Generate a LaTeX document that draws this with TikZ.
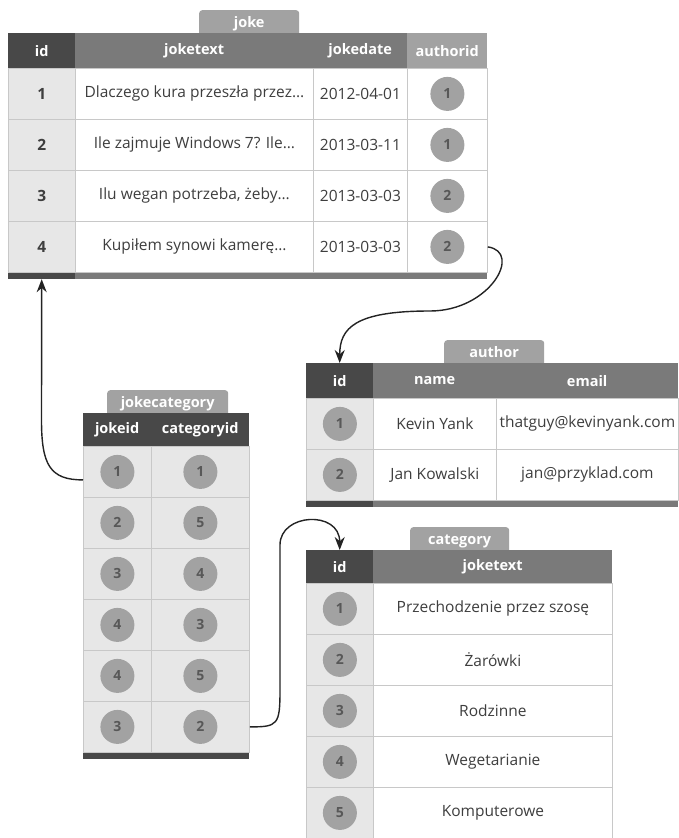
\documentclass[tikz,border=0pt]{standalone}
\usepackage{fontspec}
\setmainfont{Open Sans}
\usetikzlibrary{positioning,arrows.meta}

\definecolor{headdark}{RGB}{72,72,72}
\definecolor{headmid}{RGB}{122,122,122}
\definecolor{headlight}{RGB}{162,162,162}
\definecolor{celllight}{RGB}{231,231,231}
\definecolor{gridline}{RGB}{200,200,200}
\definecolor{bodytext}{RGB}{62,62,62}
\definecolor{dottext}{RGB}{88,88,88}
\definecolor{linkcolor}{RGB}{35,35,35}

\begin{document}
\begin{tikzpicture}[x=1pt, y=-1pt,
  every node/.style={inner sep=0pt, anchor=north west},
  tab/.style={fill=headlight, rounded corners=3pt, minimum height=27, text height=12, text depth=5, text=white, font=\bfseries\fontsize{14.5}{16}\selectfont},
  head/.style={minimum height=35, text=white, font=\bfseries\fontsize{14.5}{16}\selectfont},
  cell/.style={draw=gridline, line width=0.8pt, fill=white, minimum height=51, text=bodytext, font=\fontsize{15.5}{18}\selectfont},
  keycell/.style={cell, fill=celllight},
  keydot/.style={circle, anchor=center, fill=headlight, minimum size=34, text=dottext, font=\bfseries\fontsize{14}{15}\selectfont},
  bar/.style={minimum height=6},
  link/.style={draw=linkcolor, line width=1.4pt, -{Stealth[length=13pt, width=10pt]}}]

\useasboundingbox (0,0) rectangle (679,838);

% joke table
\node[tab, minimum width=100] (joke-tab) at (199,10) {joke};
\node[head, fill=headdark, minimum width=67] (joke-h-1) at (8,33) {id};
\node[head, fill=headmid, minimum width=238] (joke-h-2) at (75,33) {joketext};
\node[head, fill=headmid, minimum width=94] (joke-h-3) at (313,33) {jokedate};
\node[head, fill=headlight, minimum width=80] (joke-h-4) at (407,33) {authorid};
\foreach \txt/\date/\aid [count=\i] in {%
  {Dlaczego kura przeszła przez…}/2012-04-01/1,
  {Ile zajmuje Windows 7? Ile…}/2013-03-11/1,
  {Ilu wegan potrzeba, żeby…}/2013-03-03/2,
  {Kupiłem synowi kamerę…}/2013-03-03/2}{
  \node[keycell, minimum width=67] (joke-\i-1) at (8,{17+51*\i}) {\bfseries\i};
  \node[cell, minimum width=238] (joke-\i-2) at (75,{17+51*\i}) {\txt};
  \node[cell, minimum width=94] (joke-\i-3) at (313,{17+51*\i}) {\date};
  \node[cell, minimum width=80] (joke-\i-4) at (407,{17+51*\i}) {};
  \node[keydot] (joke-\i-dot) at (joke-\i-4.center) {\aid};
}
\node[bar, fill=headdark, minimum width=67] (joke-bar-1) at (joke-4-1.south west) {};
\node[bar, fill=headmid, minimum width=412] (joke-bar-2) at (joke-4-2.south west) {};

% author table
\node[tab, minimum width=100] (author-tab) at (444,340) {author};
\node[head, fill=headdark, minimum width=67] (author-h-1) at (306,363) {id};
\node[head, fill=headmid, minimum width=123] (author-h-2) at (373,363) {name};
\node[head, fill=headmid, minimum width=182] (author-h-3) at (496,363) {email};
\foreach \name/\mail [count=\i] in {Kevin Yank/thatguy@kevinyank.com, Jan Kowalski/jan@przyklad.com}{
  \node[keycell, minimum width=67] (author-\i-1) at (306,{347+51*\i}) {};
  \node[keydot] (author-\i-dot) at (author-\i-1.center) {\i};
  \node[cell, minimum width=123] (author-\i-2) at (373,{347+51*\i}) {\name};
  \node[cell, minimum width=182] (author-\i-3) at (496,{347+51*\i}) {\mail};
}
\node[bar, fill=headdark, minimum width=67] (author-bar-1) at (author-2-1.south west) {};
\node[bar, fill=headmid, minimum width=305] (author-bar-2) at (author-2-2.south west) {};

% jokecategory table
\node[tab, minimum width=121] (jokecat-tab) at (107,390) {jokecategory};
\node[head, fill=headdark, minimum width=68, minimum height=33] (jokecat-h-1) at (83,413) {jokeid};
\node[head, fill=headdark, minimum width=98, minimum height=33] (jokecat-h-2) at (151,413) {categoryid};
\foreach \jid/\cid [count=\i] in {1/1, 2/5, 3/4, 4/3, 4/5, 3/2}{
  \node[keycell, minimum width=68] (jokecat-\i-1) at (83,{395+51*\i}) {};
  \node[keycell, minimum width=98] (jokecat-\i-2) at (151,{395+51*\i}) {};
  \node[keydot] (jokecat-\i-dot1) at (jokecat-\i-1.center) {\jid};
  \node[keydot] (jokecat-\i-dot2) at (jokecat-\i-2.center) {\cid};
}
\node[bar, fill=headdark, minimum width=166] (jokecat-bar) at (jokecat-6-1.south west) {};

% category table
\node[tab, minimum width=99] (cat-tab) at (410,527) {category};
\node[head, fill=headdark, minimum width=67, minimum height=33] (cat-h-1) at (306,550) {id};
\node[head, fill=headmid, minimum width=239, minimum height=33] (cat-h-2) at (373,550) {joketext};
\foreach \cname [count=\i] in {Przechodzenie przez szosę, Żarówki, Rodzinne, Wegetarianie, Komputerowe}{
  \node[keycell, minimum width=67] (cat-\i-1) at (306,{532+51*\i}) {};
  \node[keydot] (cat-\i-dot) at (cat-\i-1.center) {\i};
  \node[cell, minimum width=239] (cat-\i-2) at (373,{532+51*\i}) {\cname};
}

% connectors
\coordinate (bend-a) at (430,311);
\coordinate (bend-b) at (41.5,420);
\coordinate (bend-c) at (280,690);
\coordinate (bend-d) at (280,545);
\draw[link] (joke-4-4.east) .. controls +(35,5) and +(60,0) .. (bend-a)
  .. controls +(-75,0) and +(0,-35) .. (author-h-1.north);
\draw[link] ([yshift=-8pt]jokecat-1-1.west) .. controls +(-33,0) and +(0,45) .. (bend-b)
  -- (joke-bar-1.south);
\draw[link] (jokecat-6-2.east) .. controls +(28,0) and +(0,35) .. (bend-c) -- (bend-d)
  .. controls +(0,-32) and +(0,-40) .. (cat-h-1.north);

\end{tikzpicture}
\end{document}
